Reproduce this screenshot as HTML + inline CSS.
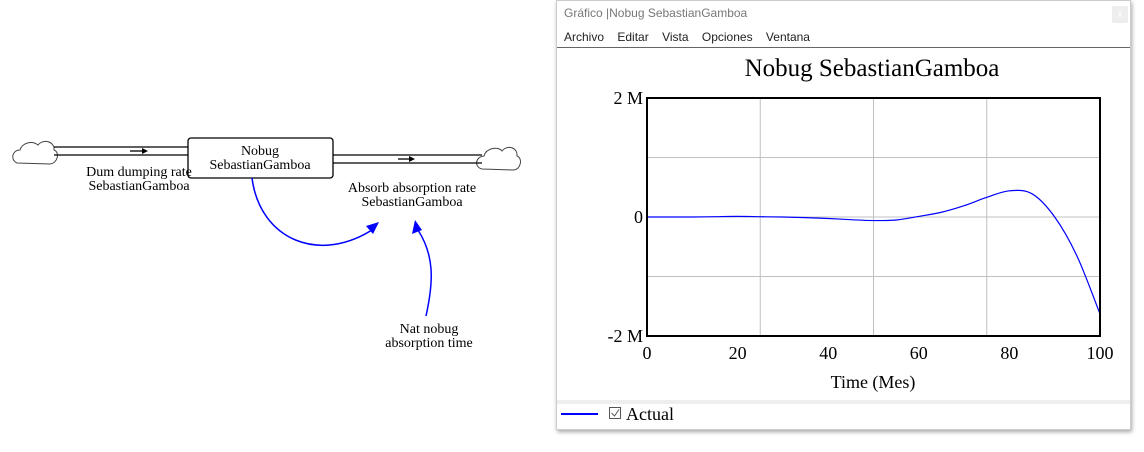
<!DOCTYPE html>
<html><head><meta charset="utf-8"><style>
body{margin:0;width:1144px;height:452px;background:#fff;position:relative;overflow:hidden;font-family:"Liberation Serif",serif}
.lbl{position:absolute;font-size:14px;text-align:center;line-height:14px;transform:translateX(-50%);white-space:nowrap}
.win{position:absolute;left:556px;top:0;width:575px;height:430px;background:#fff;box-shadow:1px 2px 4px rgba(0,0,0,.35);border:1px solid #ccc;box-sizing:border-box}
.ui{font-family:"Liberation Sans",sans-serif;font-size:12px}
</style></head><body>
<svg width="540" height="452" style="position:absolute;left:0;top:0">
 <g fill="#fff" stroke="#444" stroke-width="1">
  <path d="M17 163 C10 160 12 150 20 150 C22 143 32 140 38 145 C44 138 55 142 54 150 C60 152 58 163 50 164 Z"/>
  <path d="M482 169 C474 167 475 157 484 156 C486 148 498 146 502 151 C508 144 518 148 517 156 C523 158 521 170 513 170 Z"/>
 </g>
 <g stroke="#000" stroke-width="1.3" fill="none">
  <line x1="54" y1="147" x2="188" y2="147"/><line x1="54" y1="155" x2="188" y2="155"/>
  <line x1="333" y1="155" x2="482" y2="155"/><line x1="333" y1="163" x2="482" y2="163"/>
  <rect x="188" y="138" width="145" height="40" rx="3" fill="#fff"/>
  <line x1="130" y1="151" x2="145" y2="151"/><line x1="398" y1="159" x2="412" y2="159"/>
 </g>
 <path d="M148 151 L142 148 L142 154Z M415 159 L409 156 L409 162Z" fill="#000"/>
 <path d="M252 178 C260 240 320 265 375 228" stroke="#00f" stroke-width="1.5" fill="none"/>
 <path d="M379 222 L366 226 L373 234Z" fill="#00f"/>
 <path d="M426 316 C434 280 434 255 418 230" stroke="#00f" stroke-width="1.5" fill="none"/>
 <path d="M415 220 L412 234 L422 230Z" fill="#00f"/>
</svg>
<div class="lbl" style="left:139px;top:166px">Dum dumping rate<br>SebastianGamboa</div>
<div class="lbl" style="left:260px;top:145px">Nobug<br>SebastianGamboa</div>
<div class="lbl" style="left:412px;top:182px">Absorb absorption rate<br>SebastianGamboa</div>
<div class="lbl" style="left:429px;top:323px">Nat nobug<br>absorption time</div>

<div class="win">
 <div class="ui" style="position:absolute;left:7px;top:5px;color:#777">Gráfico |Nobug SebastianGamboa</div>
 <div style="position:absolute;left:555px;top:5px;width:16px;height:17px;background:#eee;color:#fff;font:10px sans-serif;text-align:center;line-height:17px">x</div>
 <div class="ui" style="position:absolute;left:7px;top:29px;color:#222;word-spacing:0">
  <span>Archivo</span>&nbsp;&nbsp;&nbsp;
  <span>Editar</span>&nbsp;&nbsp;&nbsp;
  <span>Vista</span>&nbsp;&nbsp;&nbsp;
  <span>Opciones</span>&nbsp;&nbsp;&nbsp;
  <span>Ventana</span></div>
 <div style="position:absolute;left:0;top:46px;width:573px;height:1px;background:#666"></div>
 <div style="position:absolute;left:0;top:399px;width:573px;height:4px;background:#eee"></div>
</div>
<svg id="chart" width="1144" height="452" style="position:absolute;left:0;top:0;pointer-events:none"></svg>
<script>
const times=[0,5,10,15,20,25,30,35,40,45,50,55,60,65,70,75,80,85,90,95,100];
const values=[0,0,0,0.005,0.01,0.005,0,-0.01,-0.025,-0.045,-0.06,-0.05,0.01,0.08,0.19,0.33,0.44,0.39,0,-0.67,-1.63];
const xTickLabels=["0","20","40","60","80","100"];
const yTickLabels=["2 M","0","-2 M"];
const yTickVals=[2,0,-2];
const X0=647,X1=1100,Y0=98,Y1=336;
const sx=t=>X0+(t-0)/100*(X1-X0);
const sy=v=>Y1-(v+2)/4*(Y1-Y0);
const svg=document.getElementById('chart');
const NS='http://www.w3.org/2000/svg';
function mk(tag,attrs,txt){const e=document.createElementNS(NS,tag);for(const k in attrs)e.setAttribute(k,attrs[k]);if(txt!==undefined)e.textContent=txt;svg.appendChild(e);return e;}
for(let i=1;i<4;i++){const x=X0+i*(X1-X0)/4;
 const g=mk('line',{x1:x,x2:x,y1:Y0,y2:Y1,stroke:'#c0c0c0'});
 
 
 const y=Y0+i*(Y1-Y0)/4;
 const h=mk('line',{x1:X0,x2:X1,y1:y,y2:y,stroke:'#c0c0c0'});
 
 }
let d='';const P=times.map((t,i)=>[sx(t),sy(values[i])]);
d='M'+P[0][0]+' '+P[0][1];
for(let i=0;i<P.length-1;i++){const p0=P[Math.max(0,i-1)],p1=P[i],p2=P[i+1],p3=P[Math.min(P.length-1,i+2)];
 d+=` C${p1[0]+(p2[0]-p0[0])/6} ${p1[1]+(p2[1]-p0[1])/6} ${p2[0]-(p3[0]-p1[0])/6} ${p2[1]-(p3[1]-p1[1])/6} ${p2[0]} ${p2[1]}`;}
const ln=mk('path',{d:d,fill:'none',stroke:'#0000ff','stroke-width':1.2});


const fr=mk('rect',{x:X0,y:Y0,width:X1-X0,height:Y1-Y0,fill:'none',stroke:'#000','stroke-width':2});


xTickLabels.forEach((l,i)=>{const t=mk('text',{x:X0+i*(X1-X0)/5,y:359,'text-anchor':'middle','font-size':18,'font-family':'Liberation Serif,serif'},l);
 
 });
yTickLabels.forEach((l,i)=>{const t=mk('text',{x:643,y:sy(yTickVals[i])+6,'text-anchor':'end','font-size':18,'font-family':'Liberation Serif,serif'},l);
 
 });
const ti=mk('text',{x:872,y:76,'text-anchor':'middle','font-size':25,'font-family':'Liberation Serif,serif'},'Nobug SebastianGamboa');


const xt=mk('text',{x:873,y:388,'text-anchor':'middle','font-size':18,'font-family':'Liberation Serif,serif'},'Time (Mes)');


const lg=mk('line',{x1:561,x2:598,y1:414,y2:414,stroke:'#0000ff','stroke-width':2});


const cb=mk('rect',{x:609.5,y:407.5,width:11,height:11,fill:'#fff',stroke:'#555'});


mk('path',{d:'M611.5 413 L614.5 416 L619 409.5',fill:'none',stroke:'#555','stroke-width':1});
const lt=mk('text',{x:626,y:420,'font-size':18,'font-family':'Liberation Serif,serif'},'Actual');


</script>
</body></html>
